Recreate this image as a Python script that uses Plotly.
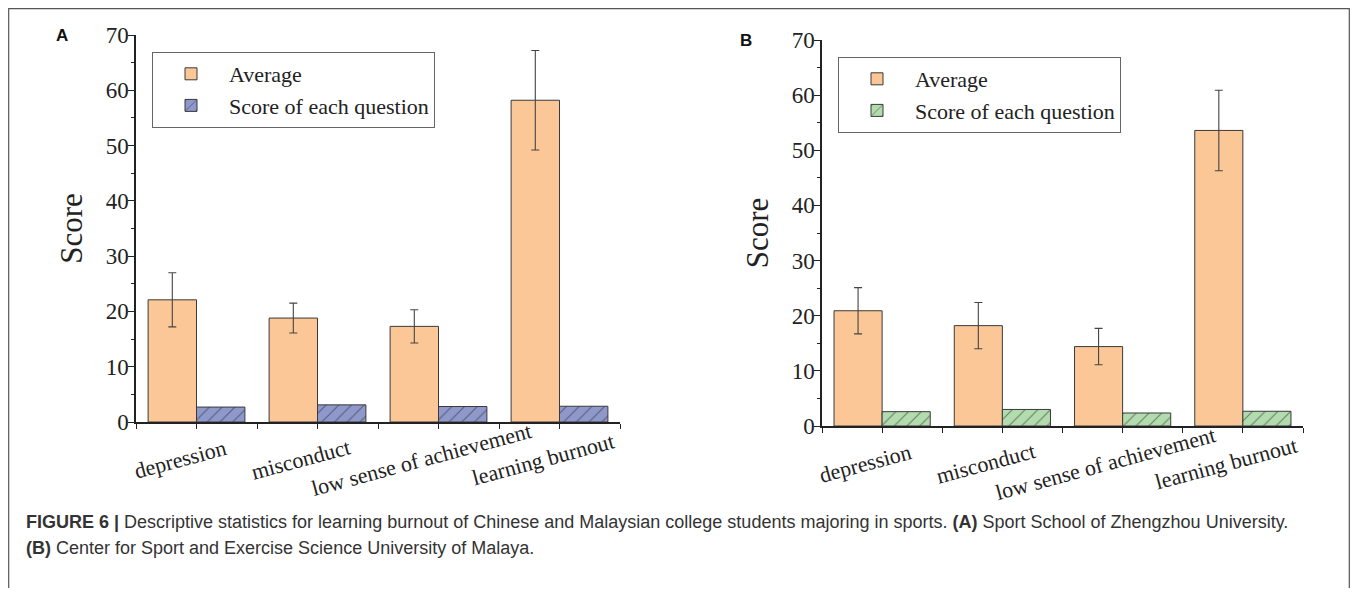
import plotly.graph_objects as go

categories = ["depression", "misconduct", "low sense of achievement", "learning burnout"]

# Panel A: Sport School of Zhengzhou University
a_average = [22.1, 18.8, 17.3, 58.2]
a_average_err = [4.9, 2.7, 3.0, 9.0]
a_question = [2.7, 3.1, 2.8, 2.85]

# Panel B: Center for Sport and Exercise Science University of Malaya
b_average = [20.9, 18.2, 14.4, 53.6]
b_average_err = [4.2, 4.2, 3.3, 7.3]
b_question = [2.6, 3.0, 2.36, 2.67]

series_names = ["Average", "Score of each question"]
y_ticks = [0, 10, 20, 30, 40, 50, 60, 70]

ORANGE = "#FBC797"
BLUE = "#8E98CB"
GREEN = "#B2DBAE"
EDGE = "#3a3a3a"
SERIF = "Liberation Serif"

xpos = list(range(len(categories)))
bounds = [i - 0.5 for i in range(len(categories) + 1)]

fig = go.Figure()


def add_panel(avg, err, q, qcolor, xa, ya, legend):
    fig.add_trace(go.Bar(
        x=xpos, y=avg, name=series_names[0], xaxis=xa, yaxis=ya, legend=legend,
        marker=dict(color=ORANGE, line=dict(color=EDGE, width=1)),
        error_y=dict(type="data", array=err, visible=True, color="#444", thickness=1.1, width=4),
    ))
    fig.add_trace(go.Bar(
        x=xpos, y=q, name=series_names[1], xaxis=xa, yaxis=ya, legend=legend,
        marker=dict(color=qcolor, line=dict(color=EDGE, width=1),
                    pattern=dict(shape="/", fgcolor="#222", fillmode="overlay", size=9, solidity=0.12)),
    ))
    # category labels, centred below each tick and tilted like the original
    for i, name in zip(xpos, categories):
        fig.add_annotation(text=name, x=i, y=0, xref=xa, yref=ya, showarrow=False,
                           xanchor="center", yanchor="middle", textangle=-15,
                           xshift=-17, yshift=-37,
                           font=dict(family=SERIF, size=22, color="#222"))


add_panel(a_average, a_average_err, a_question, BLUE, "x", "y", "legend")
add_panel(b_average, b_average_err, b_question, GREEN, "x2", "y2", "legend2")

# the page body adds an 8px margin, so the figure is 16px smaller and shifted
OFF = 8
W, H = 1358 - 2 * OFF, 596 - 2 * OFF


def px_x(p):
    return (p - OFF) / W


def px_y(p):
    return 1 - (p - OFF) / H


xcommon = dict(
    type="linear", range=[bounds[0], bounds[-1]], tickmode="array", tickvals=xpos, ticktext=categories,
    showticklabels=False, ticks="outside", ticklen=5, tickwidth=1.3, tickcolor="#222",
    showline=True, linecolor="#222", linewidth=1.5, showgrid=False, zeroline=False,
    automargin=False,
    minor=dict(tickmode="array", tickvals=bounds, ticks="outside", ticklen=5, tickwidth=1.3, tickcolor="#222", showgrid=False),
    fixedrange=True,
)
ycommon = dict(
    range=[0, 70], tickmode="array", tickvals=y_ticks, ticks="outside", ticklen=6, tickwidth=1.3,
    tickcolor="#222", showline=True, linecolor="#222", linewidth=1.5, showgrid=False, zeroline=False,
    tickfont=dict(family=SERIF, size=23, color="#222"), automargin=False, ticklabelstandoff=-5,
    minor=dict(dtick=5, ticks="outside", ticklen=3, tickwidth=1.2, tickcolor="#222", showgrid=False),
    title=dict(text="Score", font=dict(family=SERIF, size=31, color="#222"), standoff=14),
    fixedrange=True,
)

legend_common = dict(
    xanchor="left", yanchor="top", bgcolor="white", bordercolor="#666", borderwidth=1,
    font=dict(family=SERIF, size=22, color="#222"), itemwidth=66, tracegroupgap=0,
)

fig.update_layout(
    width=W, height=H, margin=dict(l=0, r=0, t=0, b=0, autoexpand=False),
    paper_bgcolor="white", plot_bgcolor="white",
    barmode="group", bargap=0.2, bargroupgap=0,
    showlegend=True,
    xaxis=dict(domain=[px_x(136), px_x(620)], anchor="y", **xcommon),
    yaxis=dict(domain=[px_y(422), px_y(35)], anchor="x", **ycommon),
    xaxis2=dict(domain=[px_x(822), px_x(1303)], anchor="y2", **xcommon),
    yaxis2=dict(domain=[px_y(426), px_y(40)], anchor="x2", **ycommon),
    legend=dict(x=px_x(152), y=px_y(52), **legend_common),
    legend2=dict(x=px_x(838), y=px_y(57), **legend_common),
)

# outer frame of the figure
fig.add_shape(type="rect", xref="paper", yref="paper", x0=px_x(8.7), x1=px_x(1349.3), y0=px_y(588.5), y1=px_y(8.7),
              line=dict(color="#555", width=1.2), fillcolor="rgba(0,0,0,0)", layer="below")

# panel letters
for letter, xp, yp in [("A", 62, 35), ("B", 746, 40)]:
    fig.add_annotation(text="<b>%s</b>" % letter, xref="paper", yref="paper", x=px_x(xp), y=px_y(yp),
                       xanchor="center", yanchor="middle", showarrow=False,
                       font=dict(family="Liberation Sans", size=17, color="#111"))

caption1 = ("<b>FIGURE 6 |</b> Descriptive statistics for learning burnout of Chinese and Malaysian college students "
            "majoring in sports. <b>(A)</b> Sport School of Zhengzhou University.")
caption2 = "<b>(B)</b> Center for Sport and Exercise Science University of Malaya."
for txt, yp in [(caption1, 522), (caption2, 548)]:
    fig.add_annotation(text=txt, xref="paper", yref="paper", x=px_x(24), y=px_y(yp),
                       xanchor="left", yanchor="middle", showarrow=False,
                       font=dict(family="Liberation Sans", size=18, color="#333"))

fig.write_html("out.html")
